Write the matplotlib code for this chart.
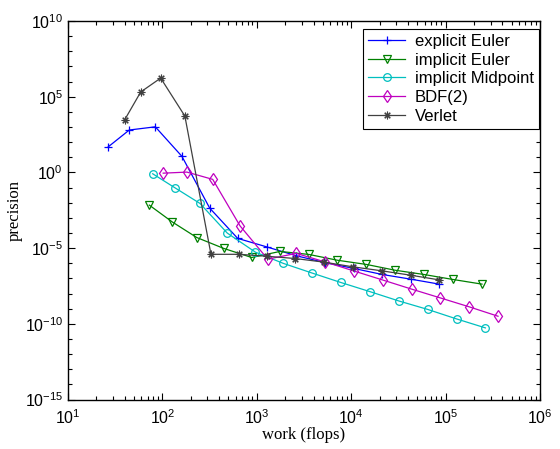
import matplotlib
matplotlib.use("Agg")
import matplotlib.pyplot as plt
from matplotlib.ticker import FixedLocator, LogFormatterSciNotation, NullFormatter, LogLocator

plt.rcParams['font.family'] = 'sans-serif'
plt.rcParams['font.sans-serif'] = ['Liberation Sans', 'DejaVu Sans']
plt.rcParams['mathtext.fontset'] = 'custom'
plt.rcParams['mathtext.rm'] = 'Liberation Sans'
plt.rcParams['mathtext.it'] = 'Liberation Sans:italic'
plt.rcParams['mathtext.bf'] = 'Liberation Sans:bold'
plt.rcParams['axes.unicode_minus'] = True

# data
exp_euler_x = [26.7, 44.6, 84.1, 161, 317, 628, 1274, 2600, 5275, 10600, 21200, 42600, 85700]
exp_euler_y = [10**1.69, 10**2.80, 10**3.01, 10**1.06, 10**-2.36, 10**-4.36, 10**-4.92,
               10**-5.50, 10**-5.96, 10**-6.34, 10**-6.74, 10**-7.05, 10**-7.38]

imp_euler_x = [72.6, 127, 231, 446, 883, 1762, 3573, 7125, 14500, 29100, 58600, 119000, 243000]
imp_euler_y = [10**-2.16, 10**-3.27, 10**-4.30, 10**-5.02, 10**-5.62, 10**-5.22, 10**-5.42,
               10**-5.80, 10**-6.08, 10**-6.46, 10**-6.74, 10**-7.07, 10**-7.38]

midpoint_x = [78.9, 136, 250, 487, 968, 1910, 3820, 7750, 15700, 31900, 64600, 131000, 264000]
midpoint_y = [10**-0.09, 10**-1.02, 10**-2.05, 10**-4.01, 10**-5.27, 10**-6.01, 10**-6.64,
              10**-7.27, 10**-7.87, 10**-8.49, 10**-9.05, 10**-9.68, 10**-10.27]

bdf2_x = [102, 182, 341, 664, 1305, 2618, 5275, 10800, 21900, 43700, 87900, 178000, 359000]
bdf2_y = [10**-0.05, 10**0.02, 10**-0.46, 10**-3.53, 10**-5.73, 10**-5.35, 10**-5.91,
          10**-6.52, 10**-7.12, 10**-7.71, 10**-8.29, 10**-8.88, 10**-9.50]

verlet_x = [39.9, 58.9, 95.9, 173, 327, 648, 1291, 2570, 5190, 10500, 21000, 42600, 85700]
verlet_y = [10**3.48, 10**5.31, 10**6.23, 10**3.72, 10**-5.41, 10**-5.41, 10**-5.54,
            10**-5.69, 10**-5.93, 10**-6.24, 10**-6.50, 10**-6.79, 10**-7.10]

labels = ['explicit Euler', 'implicit Euler', 'implicit Midpoint', 'BDF(2)', 'Verlet']
x_ticks = [1e1, 1e2, 1e3, 1e4, 1e5, 1e6]
y_ticks = [1e-15, 1e-10, 1e-5, 1e0, 1e5, 1e10]

fig = plt.figure(figsize=(5.6, 4.49), dpi=100)
ax = fig.add_axes([68/560, 1 - 399.5/449, 472/560, 378.5/449])

lw = 0.9
ax.loglog(exp_euler_x, exp_euler_y, color=(0, 0, 1), marker='+', ms=6, lw=lw, mew=0.9, label=labels[0])
ax.loglog(imp_euler_x, imp_euler_y, color=(0, 0.5, 0), marker='v', ms=5.5, mfc='none', lw=lw, mew=0.9, label=labels[1])
ax.loglog(midpoint_x, midpoint_y, color=(0, 0.75, 0.75), marker='o', ms=5.5, mfc='none', lw=lw, mew=0.9, label=labels[2])
ax.loglog(bdf2_x, bdf2_y, color=(0.75, 0, 0.75), marker='d', ms=6.5, mfc='none', lw=lw, mew=0.9, label=labels[3])
ax.loglog(verlet_x, verlet_y, color=(0.25, 0.25, 0.25), marker=(8, 2, 0), ms=5.5, lw=lw, mew=0.8, label=labels[4])

ax.set_xlim(1e1, 1e6)
ax.set_ylim(1e-15, 1e10)
ax.xaxis.set_major_locator(FixedLocator(x_ticks))
ax.xaxis.set_minor_locator(LogLocator(base=10, subs=range(2, 10), numticks=20))
ax.xaxis.set_minor_formatter(NullFormatter())
ax.yaxis.set_major_locator(FixedLocator(y_ticks))
ax.yaxis.set_minor_locator(FixedLocator([10.0**k for k in range(-15, 11)]))
ax.yaxis.set_minor_formatter(NullFormatter())
ax.xaxis.set_major_formatter(LogFormatterSciNotation())
ax.yaxis.set_major_formatter(LogFormatterSciNotation())

ax.tick_params(which='both', direction='in', top=True, right=True, labelsize=11.5, width=0.8)
ax.tick_params(which='major', length=5)
ax.tick_params(which='minor', length=3)
ax.tick_params(axis='x', pad=6)
for s in ax.spines.values():
    s.set_linewidth(1.0)

ax.set_xlabel('work (flops)', family='Liberation Serif', fontsize=12)
ax.set_ylabel('precision', family='Liberation Serif', fontsize=12)
ax.xaxis.set_label_coords(0.5, -0.073)
ax.yaxis.set_label_coords(-0.096, 0.5)

leg = ax.legend(loc='upper right', bbox_to_anchor=((539-68)/472, (399.5-29)/378.5),
                borderaxespad=0, fancybox=False, edgecolor='black', framealpha=1,
                numpoints=1, fontsize=12, handlelength=2.2, handletextpad=0.6,
                labelspacing=0.22, borderpad=0.3)
leg.get_frame().set_linewidth(0.8)

fig.savefig('out.png', dpi=100)
